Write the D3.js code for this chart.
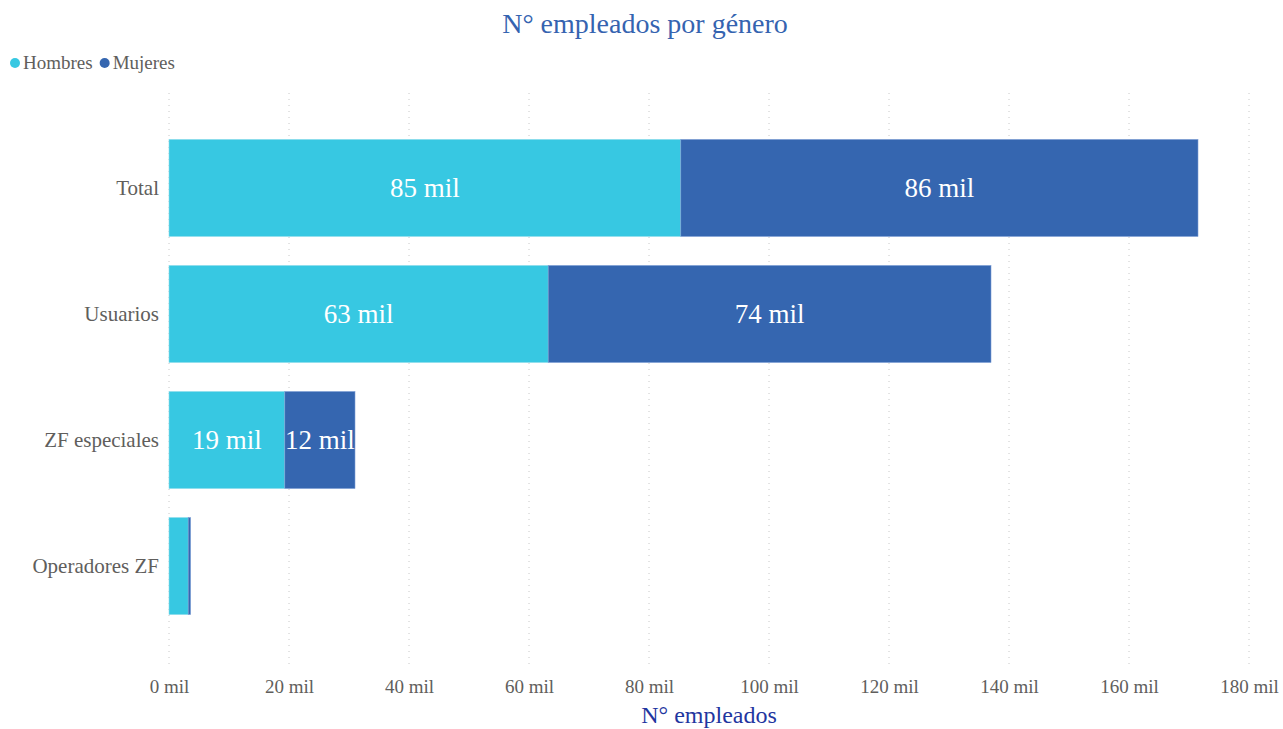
<!DOCTYPE html>
<html>
<head>
<meta charset="utf-8">
<script src="https://cdn.jsdelivr.net/npm/d3@7"></script>
<style>
  body { margin: 0; background: #fff; }
  svg text { font-family: "Liberation Serif", "DejaVu Serif", serif; }
</style>
</head>
<body>
<div id="chart"></div>
<script>
// data (thousands of employees)
const categories = ["Total", "Usuarios", "ZF especiales", "Operadores ZF"];
const hombres = [85.3, 63.2, 19.3, 3.2];
const mujeres = [86.2, 73.8, 11.7, 0.4];
const seriesNames = ["Hombres", "Mujeres"];
const xTicks = [0, 20, 40, 60, 80, 100, 120, 140, 160, 180];

const width = 1283;
const height = 729;
const colors = { Hombres: "#37c8e2", Mujeres: "#3566b0" };

const svg = d3
  .select("#chart")
  .append("svg")
  .attr("width", width)
  .attr("height", height);

const x = d3.scaleLinear().domain([0, 180]).range([169, 1249]);
const y = d3
  .scaleBand()
  .domain(categories)
  .range([89, 665])
  .paddingInner(0.23)
  .paddingOuter(0.4);

// title
svg
  .append("text")
  .attr("x", 645)
  .attr("y", 33)
  .attr("text-anchor", "middle")
  .attr("font-size", "28px")
  .attr("fill", "#3563b0")
  .text("N° empleados por género");

// legend
let lx = 15;
seriesNames.forEach((name) => {
  svg
    .append("circle")
    .attr("cx", lx)
    .attr("cy", 63)
    .attr("r", 5)
    .attr("fill", colors[name]);
  const t = svg
    .append("text")
    .attr("x", lx + 8)
    .attr("y", 69)
    .attr("font-size", "19px")
    .attr("fill", "#605e5c")
    .text(name);
  lx += t.node().getComputedTextLength() + 20;
});

// grid lines
svg
  .append("g")
  .selectAll("line")
  .data(xTicks)
  .join("line")
  .attr("x1", (d) => x(d))
  .attr("x2", (d) => x(d))
  .attr("y1", 93)
  .attr("y2", 669)
  .attr("stroke", "#c8c8c8")
  .attr("stroke-width", 1)
  .attr("stroke-dasharray", "1,5");

// x axis
const xAxis = svg
  .append("g")
  .attr("transform", "translate(0,676)")
  .call(
    d3
      .axisBottom(x)
      .tickValues(xTicks)
      .tickSize(0)
      .tickFormat((d) => d + " mil")
  );
xAxis.select(".domain").remove();
xAxis
  .selectAll("text")
  .attr("font-size", "19px")
  .attr("fill", "#605e5c")
  .attr("dy", "0.71em");

// x axis title
svg
  .append("text")
  .attr("x", 709)
  .attr("y", 723)
  .attr("text-anchor", "middle")
  .attr("font-size", "24px")
  .attr("fill", "#1f36a0")
  .text("N° empleados");

// y axis labels
const yAxis = svg
  .append("g")
  .attr("transform", "translate(169,0)")
  .call(d3.axisLeft(y).tickSize(0).tickPadding(10));
yAxis.select(".domain").remove();
yAxis
  .selectAll("text")
  .attr("font-size", "21px")
  .attr("fill", "#605e5c");

// stacked bars
const rows = categories.map((c, i) => ({
  cat: c,
  Hombres: hombres[i],
  Mujeres: mujeres[i],
}));
const stack = d3.stack().keys(seriesNames)(rows);

stack.forEach((layer) => {
  const g = svg.append("g");
  g.selectAll("rect")
    .data(layer)
    .join("rect")
    .attr("x", (d) => x(d[0]))
    .attr("y", (d) => y(d.data.cat))
    .attr("width", (d) => x(d[1]) - x(d[0]))
    .attr("height", y.bandwidth())
    .attr("fill", colors[layer.key])
    .attr("stroke", layer.key === "Hombres" ? "#8fdcec" : "#7e9fd6")
    .attr("stroke-width", 0.6);

  g.selectAll("text")
    .data(layer.filter((d) => x(d[1]) - x(d[0]) > 40))
    .join("text")
    .attr("x", (d) => (x(d[0]) + x(d[1])) / 2)
    .attr("y", (d) => y(d.data.cat) + y.bandwidth() / 2)
    .attr("dy", "0.35em")
    .attr("text-anchor", "middle")
    .attr("font-size", "27px")
    .attr("fill", "#ffffff")
    .text((d) => Math.round(d[1] - d[0]) + " mil");
});
</script>
</body>
</html>
